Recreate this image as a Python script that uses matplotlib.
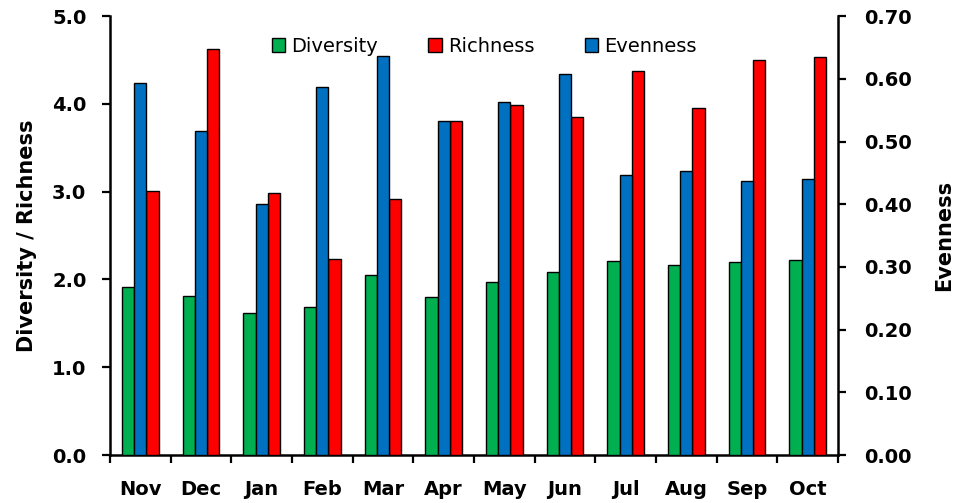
import numpy as np
import matplotlib
matplotlib.use("Agg")
import matplotlib.pyplot as plt

months = ["Nov", "Dec", "Jan", "Feb", "Mar", "Apr", "May", "Jun", "Jul", "Aug", "Sep", "Oct"]
diversity = [1.91, 1.81, 1.62, 1.69, 2.05, 1.80, 1.97, 2.08, 2.21, 2.16, 2.20, 2.22]
richness = [3.01, 4.63, 2.98, 2.23, 2.92, 3.80, 3.99, 3.85, 4.38, 3.95, 4.50, 4.53]
evenness = [0.594, 0.517, 0.400, 0.587, 0.636, 0.533, 0.563, 0.607, 0.447, 0.453, 0.437, 0.440]

plt.rcParams["font.family"] = ["DejaVu Sans"]
fig = plt.figure(figsize=(9.55, 5.03), dpi=100)
ax = fig.add_axes([0.1152, 0.0954, 0.7623, 0.8726])
ax2 = ax.twinx()

x = np.arange(len(months))
w = 0.2
bd = ax.bar(x - w, diversity, w, color="#00B050", edgecolor="black", lw=1, label="Diversity", zorder=3)
br = ax.bar(x + w, richness, w, color="#FF0000", edgecolor="black", lw=1, label="Richness", zorder=3)
be = ax2.bar(x, evenness, w, color="#0070C0", edgecolor="black", lw=1, label="Evenness", zorder=3)

ax.set_xlim(-0.5, len(months) - 0.5)
ax.set_ylim(0, 5)
ax2.set_ylim(0, 0.7)
yl = np.arange(0, 5.01, 1.0)
yr = np.arange(0, 0.701, 0.1)
ax.set_yticks(yl)
ax.set_yticklabels([f"{v:.1f}" for v in yl])
ax2.set_yticks(yr)
ax2.set_yticklabels([f"{v:.2f}" for v in yr])

# month names centred, tick marks on the group boundaries
ax.set_xticks(x)
ax.set_xticklabels(months)
ax.set_xticks(np.arange(-0.5, len(months), 1.0), minor=True)
ax.tick_params(axis="x", which="major", length=0, pad=18)
ax.tick_params(axis="x", which="minor", length=6, width=1.6, direction="out")
ax.tick_params(axis="y", length=6, width=1.6, pad=11)
ax2.tick_params(axis="y", length=6, width=1.6, pad=13)

for a in (ax, ax2):
    for lab in a.get_xticklabels() + a.get_yticklabels():
        lab.set_fontsize(14)
        lab.set_fontweight("bold")
    a.spines["top"].set_visible(False)
    for s in ("left", "right", "bottom"):
        a.spines[s].set_linewidth(1.8)
ax.spines["right"].set_visible(False)
ax2.spines["left"].set_visible(False)
ax2.spines["bottom"].set_visible(False)

ax.set_ylabel("Diversity / Richness", fontsize=15, fontweight="bold", labelpad=11)
ax2.set_ylabel("Evenness", fontsize=15, fontweight="bold", labelpad=16)

ax.legend([bd, br, be], ["Diversity", "Richness", "Evenness"], ncol=3, frameon=False,
          loc="upper center", bbox_to_anchor=(0.514, 0.992), fontsize=14,
          handlelength=0.7, handleheight=0.7, handletextpad=0.3, columnspacing=2.6)

fig.savefig("out.png", dpi=100)
